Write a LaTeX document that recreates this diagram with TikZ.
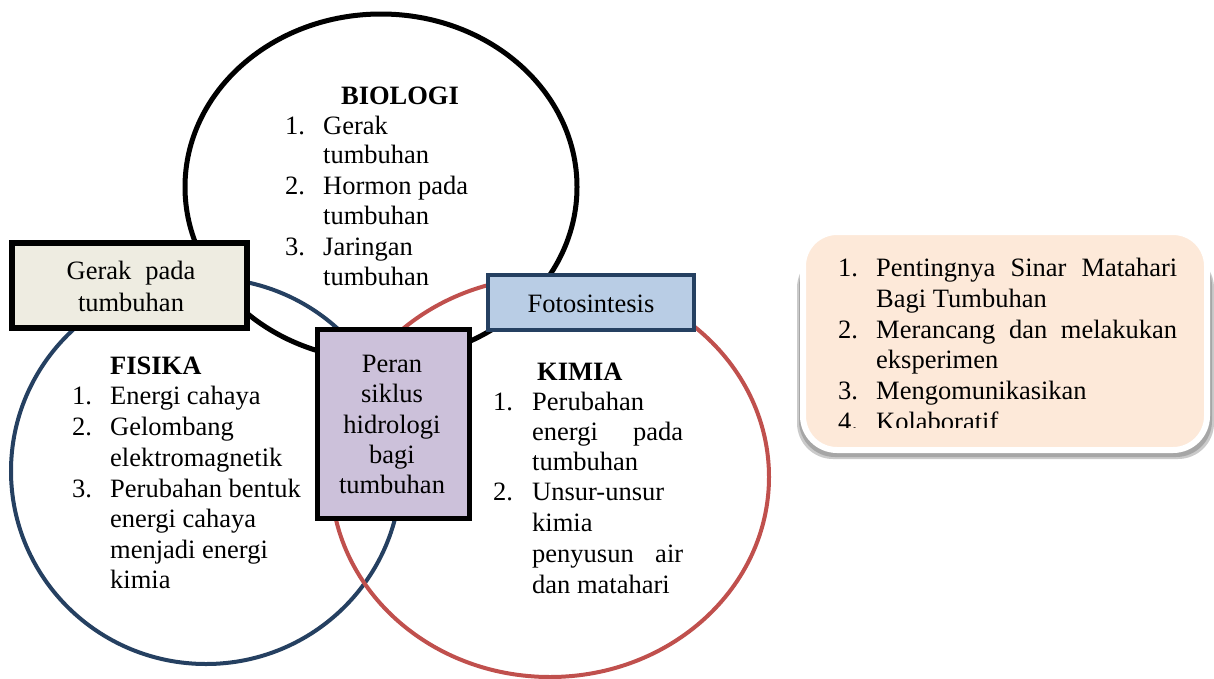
\documentclass[tikz,border=0pt]{standalone}
\usepackage{fontspec}
\setmainfont{Liberation Serif}
\newcommand\mfont{\fontsize{26.5pt}{30pt}\selectfont}
\definecolor{navyc}{HTML}{254061}
\definecolor{redc}{HTML}{C0504D}
\definecolor{fotofill}{HTML}{B9CDE5}
\definecolor{peranfill}{HTML}{CCC1DA}
\definecolor{gerakfill}{HTML}{EEECE1}
\definecolor{peach}{HTML}{FDE9D9}
\definecolor{shadowc}{HTML}{A6A6A6}
\tikzset{
  txt/.style={anchor=base west, inner sep=0pt, font=\mfont},
  ctxt/.style={anchor=base, inner sep=0pt, font=\mfont},
  boxnode/.style={draw, rectangle, inner sep=0pt},
}
\begin{document}
\begin{tikzpicture}[x=1pt,y=-1pt]
\useasboundingbox (0,0) rectangle (1214,678);
% Venn ellipses
\draw[navyc, line width=4pt] (206,471) ellipse [x radius=195pt, y radius=193pt];
\draw[redc, line width=4pt] (550,477) ellipse [x radius=219pt, y radius=200pt];
\draw[black, line width=5pt] (381,187) ellipse [x radius=196pt, y radius=173pt];
% boxes
\node[boxnode, line width=6pt, fill=gerakfill, minimum width=235pt, minimum height=85pt] (gerak) at (129.5,285.5) {};
\node[boxnode, draw=navyc, line width=4pt, fill=fotofill, minimum width=206pt, minimum height=55pt] (foto) at (591,302.5) {};
\node[boxnode, line width=5pt, fill=peranfill, minimum width=152pt, minimum height=189pt] (peran) at (393.5,424) {};
% box texts
\node[ctxt] (g1) at (131,279) {Gerak\hspace{14pt}pada};
\node[ctxt] (g2) at (131,311) {tumbuhan};
\node[ctxt] (f1) at (591,312) {Fotosintesis};
\node[ctxt] (p1) at (392,372) {Peran};
\node[ctxt] (p2) at (392,402) {siklus};
\node[ctxt] (p3) at (392,433) {hidrologi};
\node[ctxt] (p4) at (392,463) {bagi};
\node[ctxt] (p5) at (392,493) {tumbuhan};
% BIOLOGI
\node[ctxt, font=\mfont\bfseries] (bt) at (400,104) {BIOLOGI};
\node[txt] (bn1) at (285,134) {1.};
\node[txt] (b1) at (323,134) {Gerak};
\node[txt] (b2) at (323,163) {tumbuhan};
\node[txt] (bn2) at (285,194) {2.};
\node[txt] (b3) at (323,194) {Hormon pada};
\node[txt] (b4) at (323,224) {tumbuhan};
\node[txt] (bn3) at (285,255) {3.};
\node[txt] (b5) at (323,255) {Jaringan};
\node[txt] (b6) at (323,285) {tumbuhan};
% FISIKA
\node[txt, font=\mfont\bfseries] (ft) at (110,374) {FISIKA};
\node[txt] (fn1) at (72,404) {1.};
\node[txt] (fs1) at (110,404) {Energi cahaya};
\node[txt] (fn2) at (72,435) {2.};
\node[txt] (fs2) at (110,435) {Gelombang};
\node[txt] (fs3) at (110,466) {elektromagnetik};
\node[txt] (fn3) at (72,497) {3.};
\node[txt] (fs4) at (110,497) {Perubahan bentuk};
\node[txt] (fs5) at (110,527) {energi cahaya};
\node[txt] (fs6) at (110,558) {menjadi energi};
\node[txt] (fs7) at (110,588) {kimia};
% KIMIA
\node[txt, font=\mfont\bfseries] (kt) at (537,380) {KIMIA};
\node[txt] (kn1) at (493,410) {1.};
\node[txt] (k1) at (532,410) {Perubahan};
\node[txt] (k2) at (532,440) {\hbox to 151pt{energi\hfill pada}};
\node[txt] (k3) at (532,470) {tumbuhan};
\node[txt] (kn2) at (493,500) {2.};
\node[txt] (k4) at (532,500) {Unsur-unsur};
\node[txt] (k5) at (532,531) {kimia};
\node[txt] (k6) at (532,562) {\hbox to 151pt{penyusun\hfill air}};
\node[txt] (k7) at (532,593) {dan matahari};
% right rounded box
\fill[shadowc!60] (797,252) [rounded corners=36pt] rectangle (1214,459);
\fill[shadowc] (799,250) [rounded corners=36pt] rectangle (1212,457);
\draw[white, line width=6pt, fill=peach, rounded corners=34pt] (803,232) rectangle (1207,450);
\begin{scope}
\clip (800,229) rectangle (1214,427);
\node[txt] (rn1) at (838,276) {1.};
\node[txt] (r1) at (876,276) {\hbox to 301pt{Pentingnya\hfill Sinar\hfill Matahari}};
\node[txt] (r2) at (876,307) {Bagi Tumbuhan};
\node[txt] (rn2) at (838,338) {2.};
\node[txt] (r3) at (876,338) {\hbox to 301pt{Merancang\hfill dan\hfill melakukan}};
\node[txt] (r4) at (876,368) {eksperimen};
\node[txt] (rn3) at (838,399) {3.};
\node[txt] (r5) at (876,399) {Mengomunikasikan};
\node[txt] (rn4) at (838,430) {4.};
\node[txt] (r6) at (876,430) {Kolaboratif};
\end{scope}
\end{tikzpicture}
\end{document}
